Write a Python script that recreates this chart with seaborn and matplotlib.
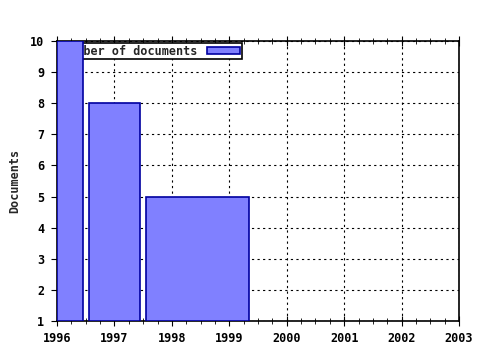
import matplotlib
matplotlib.use("Agg")
import matplotlib.pyplot as plt
import seaborn as sns
from matplotlib.ticker import MultipleLocator

sns.set_style("white")
plt.rcParams['font.family'] = ['DejaVu Sans Mono', 'DejaVu Sans']

# data
bar_start = [1996.0, 1996.56, 1997.55]
bar_end = [1996.45, 1997.45, 1999.35]
counts = [10, 8, 5]
series_label = "Number of documents"
x_ticks = [1996, 1997, 1998, 1999, 2000, 2001, 2002, 2003]
y_ticks = [1, 2, 3, 4, 5, 6, 7, 8, 9, 10]

fig = plt.figure(figsize=(4.8, 3.5), dpi=100)
ax = fig.add_axes([0.11875, 0.0829, 0.8375, 0.8])

widths = [e - s for s, e in zip(bar_start, bar_end)]
heights = [c - 1 for c in counts]
ax.bar(bar_start, heights, width=widths, bottom=1, align='edge',
       color='#8080ff', edgecolor='#0000a0', linewidth=1.2, zorder=3,
       label=series_label)

ax.set_xlim(1996, 2003)
ax.set_ylim(1, 10)
ax.set_xticks(x_ticks)
ax.set_yticks(y_ticks)
ax.xaxis.set_minor_locator(MultipleLocator(0.25))
ax.grid(True, which='major', color='black', linestyle=(0, (2, 3)), linewidth=0.8, zorder=0)
ax.set_axisbelow(True)
for s in ax.spines.values():
    s.set_color('black')
    s.set_linewidth(1.2)
ax.tick_params(axis='x', which='both', direction='inout', top=True, bottom=True,
               colors='black', labelsize=8.5, pad=4.5)
ax.tick_params(axis='x', which='major', length=7)
ax.tick_params(axis='x', which='minor', length=4)
ax.tick_params(axis='y', which='major', direction='out', left=True, right=False,
               length=4, colors='black', labelsize=8.5, pad=5)
for lab in ax.get_xticklabels() + ax.get_yticklabels():
    lab.set_fontweight('bold')
ax.set_ylabel("Documents", fontsize=8.5, fontweight='bold')
ax.yaxis.set_label_coords(-0.09, 0.5)

leg = ax.legend(loc='upper left', bbox_to_anchor=(0.008, 0.993), markerfirst=False,
                frameon=True, fancybox=False, edgecolor='black', framealpha=1,
                prop={'family': 'DejaVu Sans Mono', 'weight': 'bold', 'size': 8.5},
                borderpad=0.15, handlelength=2.8, handleheight=0.5, handletextpad=0.8,
                borderaxespad=0)
leg.get_frame().set_linewidth(1.2)
leg.set_zorder(2)

fig.savefig("out.png", dpi=100)
